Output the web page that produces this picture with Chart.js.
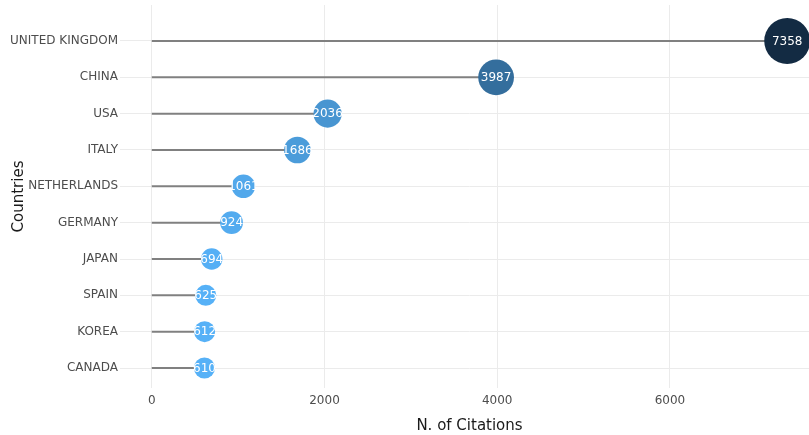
<!DOCTYPE html>
<html>
<head>
<meta charset="utf-8">
<script src="https://cdn.jsdelivr.net/npm/chart.js@4.4.1/dist/chart.umd.min.js"></script>
<style>
html,body{margin:0;padding:0;background:#fff;overflow:hidden;}
#wrap{width:809px;height:435px;position:relative;overflow:hidden;}
#c{display:block;}
</style>
</head>
<body>
<div id="wrap"><canvas id="c" width="819" height="435"></canvas></div>
<script>
const countries = ["UNITED KINGDOM","CHINA","USA","ITALY","NETHERLANDS","GERMANY","JAPAN","SPAIN","KOREA","CANADA"];
const citations = [7358,3987,2036,1686,1061,924,694,625,612,610];
const xTicks = [0,2000,4000,6000];

const vMin = Math.min(...citations), vMax = Math.max(...citations);
const lowCol = [86,177,247], highCol = [19,43,67];
function colorFor(v){
  const t = (v - vMin)/(vMax - vMin);
  const c = lowCol.map((a,i)=>Math.round(a + (highCol[i]-a)*t));
  return `rgb(${c[0]},${c[1]},${c[2]})`;
}
function radiusFor(v){
  return Math.sqrt(110 + (v - vMin)*(529-110)/(vMax - vMin));
}

const stemSets = countries.map((name,i)=>({
  type:'line',
  label:name,
  data:[{x:0,y:i},{x:citations[i],y:i}],
  borderColor:'#808080',
  borderWidth:2,
  pointRadius:0,
  order:2,
  clip:false
}));

const bubbleSet = {
  type:'bubble',
  label:'Citations',
  data: countries.map((name,i)=>({x:citations[i],y:i,r:radiusFor(citations[i])})),
  backgroundColor: citations.map(colorFor),
  borderWidth:0,
  order:0,
  clip:false
};

const labelPlugin = {
  id:'bubbleLabels',
  afterDatasetsDraw(chart){
    const ctx = chart.ctx;
    const idx = chart.data.datasets.indexOf(bubbleSet);
    const meta = chart.getDatasetMeta(idx);
    ctx.save();
    ctx.font = '12px "DejaVu Sans"';
    ctx.fillStyle = '#ffffff';
    ctx.textAlign = 'center';
    ctx.textBaseline = 'middle';
    meta.data.forEach((el,i)=>{
      ctx.fillText(String(citations[i]), el.x, el.y+0.5);
    });
    ctx.restore();
  }
};

function zeroPad(axis){
  axis.paddingLeft = 0; axis.paddingRight = 0; axis.paddingTop = 0; axis.paddingBottom = 0;
}

new Chart(document.getElementById('c'),{
  data:{datasets:[...stemSets, bubbleSet]},
  options:{
    responsive:false,
    animation:false,
    events:[],
    layout:{padding:{top:5,right:0,left:0,bottom:0}, autoPadding:false},
    plugins:{legend:{display:false},tooltip:{enabled:false}},
    scales:{
      x:{
        type:'linear',
        min:-368,
        max:7726,
        afterBuildTicks(axis){ axis.ticks = xTicks.map(v=>({value:v})); },
        afterFit(axis){ axis.height = 47; zeroPad(axis); },
        grid:{color:'#ebebeb',lineWidth:1,drawTicks:false},
        border:{display:false},
        ticks:{color:'#4d4d4d',font:{family:'DejaVu Sans',size:12},padding:6,maxRotation:0,
               callback:(v)=>String(v)},
        title:{display:true,text:'N. of Citations',color:'#1a1a1a',font:{family:'DejaVu Sans',size:15},padding:{top:4,bottom:0}}
      },
      y:{
        type:'linear',
        reverse:true,
        min:-0.99,
        max:9.55,
        afterBuildTicks(axis){ axis.ticks = countries.map((c,i)=>({value:i})); },
        afterFit(axis){ axis.width = 120; zeroPad(axis); },
        grid:{color:'#ebebeb',lineWidth:1,drawTicks:false},
        border:{display:false},
        ticks:{color:'#4d4d4d',font:{family:'DejaVu Sans',size:12},padding:2,
               callback:(v)=>countries[v]},
        title:{display:true,text:'Countries',color:'#1a1a1a',font:{family:'DejaVu Sans',size:15},padding:{top:10,bottom:0}}
      }
    }
  },
  plugins:[labelPlugin]
});
</script>
</body>
</html>
